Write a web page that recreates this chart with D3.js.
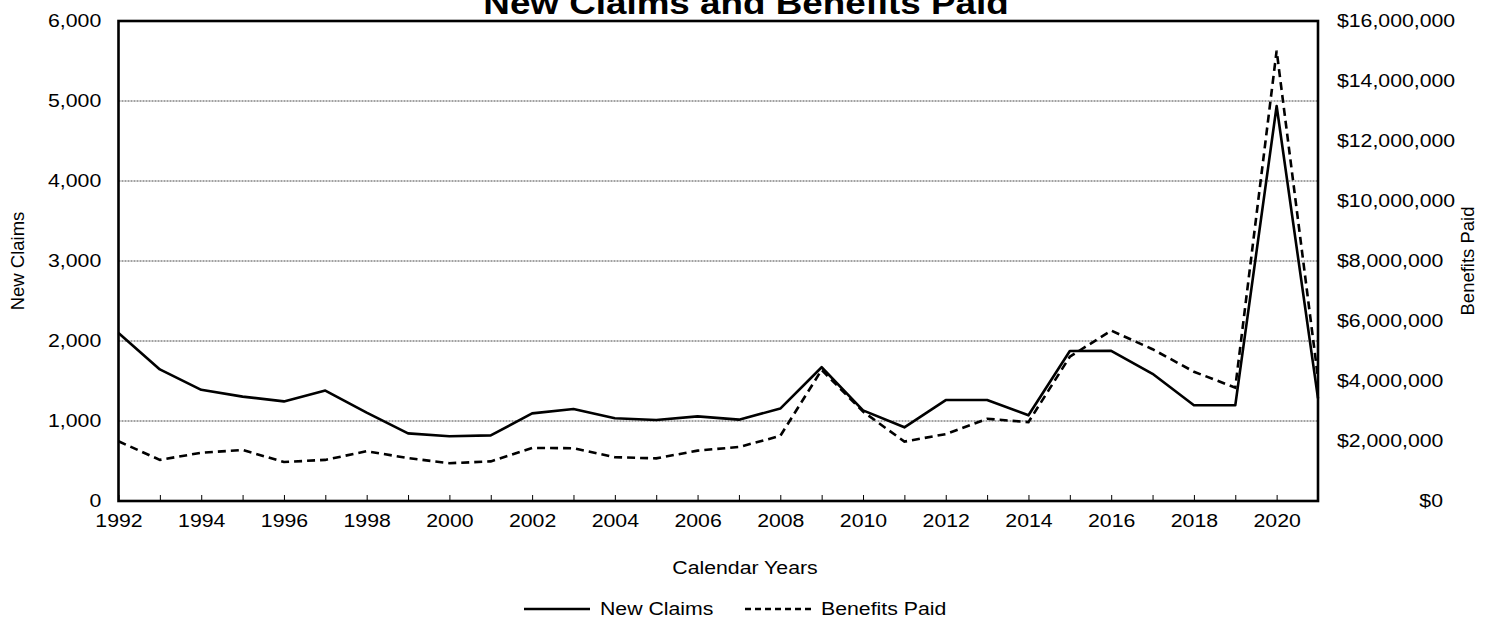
<!DOCTYPE html>
<html>
<head>
<meta charset="utf-8">
<script src="https://cdn.jsdelivr.net/npm/d3@7"></script>
<style>
  body { margin: 0; background: #fff; }
  svg text { font-family: Arial, "Liberation Sans", sans-serif; fill: #000; }
</style>
</head>
<body>
<div id="chart"></div>
<script>
// chart data
var years = [1992, 1993, 1994, 1995, 1996, 1997, 1998, 1999, 2000, 2001,
             2002, 2003, 2004, 2005, 2006, 2007, 2008, 2009, 2010, 2011,
             2012, 2013, 2014, 2015, 2016, 2017, 2018, 2019, 2020, 2021];
var newClaims = [2100, 1645, 1390, 1305, 1245, 1380, 1105, 845, 810, 820,
                 1095, 1150, 1035, 1012, 1058, 1017, 1155, 1672, 1133, 921,
                 1262, 1262, 1071, 1875, 1877, 1590, 1196, 1196, 4937, 1282];
var benefitsPaid = [1990000, 1370000, 1610000, 1700000, 1300000, 1370000, 1660000, 1430000, 1260000, 1320000,
                    1770000, 1760000, 1460000, 1420000, 1680000, 1800000, 2170000, 4370000, 2980000, 1980000,
                    2230000, 2740000, 2630000, 4810000, 5680000, 5060000, 4310000, 3780000, 15010000, 4100000];
var claimTicks = [0, 1000, 2000, 3000, 4000, 5000, 6000];
var benefitTicks = [0, 2000000, 4000000, 6000000, 8000000, 10000000, 12000000, 14000000, 16000000];
var gridValues = [1000, 2000, 3000, 4000, 5000];

var W = 1493, H = 622;
var plotL = 118.5, plotR = 1318, plotT = 21, plotB = 501;
var sx = 1.15;   // the original picture is stretched a bit sideways
var fontSize = 18.5;

var svg = d3.select("#chart").append("svg")
  .attr("width", W)
  .attr("height", H);

var x = d3.scaleLinear().domain([1992, 2021]).range([plotL, plotR]);
var yL = d3.scaleLinear().domain([0, 6000]).range([plotB, plotT]);
var yR = d3.scaleLinear().domain([0, 16000000]).range([plotB, plotT]);

// gridlines
svg.append("g").selectAll("line")
  .data(gridValues)
  .join("line")
  .attr("x1", plotL).attr("x2", plotR)
  .attr("y1", function(d){ return yL(d); })
  .attr("y2", function(d){ return yL(d); })
  .attr("stroke", "#444")
  .attr("stroke-width", 1)
  .attr("stroke-dasharray", "2,1");

// x axis (ticks point up into the plot)
var xAxis = svg.append("g")
  .attr("transform", "translate(0," + plotB + ")")
  .call(d3.axisBottom(x)
    .tickValues(years)
    .tickSize(-6)
    .tickFormat(function(d){ return d % 2 === 0 ? d : ""; }));
xAxis.select(".domain").remove();
xAxis.selectAll(".tick line").attr("stroke", "#000").attr("stroke-width", 1);
xAxis.selectAll("text")
  .attr("y", 20).attr("dy", "0.35em")
  .attr("font-size", fontSize)
  .attr("transform", "scale(" + sx + ",1)");

// left axis
var lAxis = svg.append("g")
  .attr("transform", "translate(" + plotL + ",0)")
  .call(d3.axisLeft(yL).tickValues(claimTicks).tickSize(0).tickPadding(15).tickFormat(d3.format(",")));
lAxis.select(".domain").remove();
lAxis.selectAll("text")
  .attr("font-size", fontSize)
  .attr("transform", "scale(" + sx + ",1)");

// right axis
var money = d3.format(",");
var rAxis = svg.append("g")
  .attr("transform", "translate(" + plotR + ",0)")
  .call(d3.axisRight(yR).tickValues(benefitTicks).tickSize(0).tickPadding(16.5)
    .tickFormat(function(d){ return "$" + money(d); }));
rAxis.select(".domain").remove();
rAxis.selectAll("text")
  .attr("font-size", fontSize)
  .attr("transform", "scale(" + sx + ",1)")
  .filter(function(d){ return d === 0; })
  .attr("text-anchor", "end")
  .attr("x", (1443 - plotR) / sx);

// lines
var claimLine = d3.line()
  .x(function(d, i){ return x(years[i]); })
  .y(function(d){ return yL(d); });
var benefitLine = d3.line()
  .x(function(d, i){ return x(years[i]); })
  .y(function(d){ return yR(d); });

svg.append("path")
  .datum(benefitsPaid)
  .attr("fill", "none")
  .attr("stroke", "#000")
  .attr("stroke-width", 2.6)
  .attr("stroke-dasharray", "8,5")
  .attr("d", benefitLine);

svg.append("path")
  .datum(newClaims)
  .attr("fill", "none")
  .attr("stroke", "#000")
  .attr("stroke-width", 2.6)
  .attr("stroke-linejoin", "round")
  .attr("d", claimLine);

// plot border
svg.append("rect")
  .attr("x", plotL).attr("y", plotT)
  .attr("width", plotR - plotL).attr("height", plotB - plotT)
  .attr("fill", "none")
  .attr("stroke", "#000")
  .attr("stroke-width", 2.6);

// text helper: stretched label
function label(px, py, str, opts) {
  opts = opts || {};
  var g = svg.append("g").attr("transform", "translate(" + px + "," + py + ")" + (opts.rotate ? " rotate(" + opts.rotate + ")" : ""));
  return g.append("text")
    .attr("transform", opts.rotate ? null : "scale(" + sx + ",1)")
    .attr("text-anchor", opts.anchor || "middle")
    .attr("dy", "0.35em")
    .attr("font-size", opts.size || fontSize)
    .attr("font-weight", opts.weight || "normal")
    .text(str);
}

label(746, 3, "New Claims and Benefits Paid", {size: 32, weight: "bold"});
label(745, 568, "Calendar Years");
label(18, (plotT + plotB) / 2, "New Claims", {rotate: -90});
label(1468, (plotT + plotB) / 2, "Benefits Paid", {rotate: -90});

// legend
var legY = 609;
svg.append("line").attr("x1", 524).attr("x2", 590).attr("y1", legY).attr("y2", legY)
  .attr("stroke", "#000").attr("stroke-width", 2.6);
label(600, legY, "New Claims", {anchor: "start"});
svg.append("line").attr("x1", 745).attr("x2", 814).attr("y1", legY).attr("y2", legY)
  .attr("stroke", "#000").attr("stroke-width", 2.6).attr("stroke-dasharray", "6,4");
label(821, legY, "Benefits Paid", {anchor: "start"});
</script>
</body>
</html>
